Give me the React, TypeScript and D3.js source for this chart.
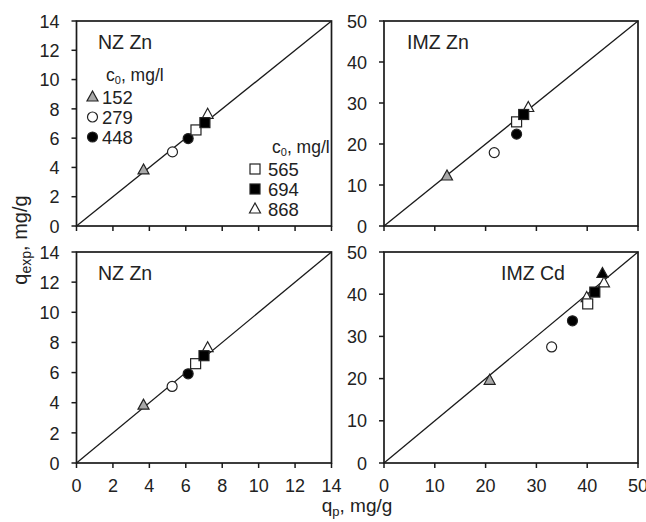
import React from "react";
import * as d3 from "d3";

// ---- data ----
const concentrationsA = ["152", "279", "448"];
const concentrationsB = ["565", "694", "868"];
const markerTypes = ["triGrey", "circleOpen", "circleFilled", "squareOpen", "squareFilled", "triOpen"];

const nzTopP = [3.68, 5.27, 6.13, 6.56, 7.05, 7.2];
const nzTopExp = [3.83, 5.06, 5.97, 6.56, 7.06, 7.63];

const imzZnP = [12.4, 21.7, 26.1, 26.1, 27.5, 28.4];
const imzZnExp = [12.2, 17.9, 22.4, 25.4, 27.2, 28.9];

const nzBotP = [3.68, 5.25, 6.13, 6.54, 7.0, 7.2];
const nzBotExp = [3.84, 5.08, 5.92, 6.59, 7.12, 7.65];

const imzCdP = [20.8, 33.0, 37.1, 40.1, 41.5, 43.3];
const imzCdExp = [19.6, 27.5, 33.7, 37.7, 40.5, 42.7];
const imzCdExtraP = [39.9, 43.0];
const imzCdExtraExp = [39.2, 44.9];
const imzCdExtraMarkers = ["triOpen", "triFilled"];

const ticksNZ = [0, 2, 4, 6, 8, 10, 12, 14];
const ticksIMZ = [0, 10, 20, 30, 40, 50];

const FONT = "'Liberation Sans', Arial, Helvetica, sans-serif";
const INK = "#1a1a1a";
const TXT = "#222";

type PanelProps = {
  x0: number; x1: number; y0: number; y1: number;
  max: number; ticks: number[]; showXLabels: boolean;
  title: string; titleX: number; titleY: number;
  p: number[]; e: number[]; markers: string[];
  extraBefore?: { p: number[]; e: number[]; m: string[] };
  children?: React.ReactNode;
};

function Marker({ type, cx, cy }: { type: string; cx: number; cy: number }) {
  const s = 10;
  if (type.startsWith("square")) {
    return <rect x={cx - s / 2} y={cy - s / 2} width={s} height={s}
      fill={type === "squareFilled" ? "#000" : "#fff"} stroke="#222" strokeWidth={1.2} />;
  }
  if (type.startsWith("circle")) {
    return <circle cx={cx} cy={cy} r={5}
      fill={type === "circleFilled" ? "#000" : "#fff"} stroke="#222" strokeWidth={1.2} />;
  }
  const w = 11, h = 10;
  const fill = type === "triGrey" ? "#a8a8a8" : type === "triFilled" ? "#000" : "#fff";
  const pts = `${cx},${cy - h * 0.6} ${cx - w / 2},${cy + h * 0.4} ${cx + w / 2},${cy + h * 0.4}`;
  return <polygon points={pts} fill={fill} stroke="#222" strokeWidth={1.2} strokeLinejoin="miter" />;
}

function Panel(props: PanelProps) {
  const { x0, x1, y0, y1, max, ticks, showXLabels } = props;
  const xs = d3.scaleLinear().domain([0, max]).range([x0, x1]);
  const ys = d3.scaleLinear().domain([0, max]).range([y1, y0]);
  const tick = 5;
  return (
    <g>
      <line x1={xs(0)} y1={ys(0)} x2={xs(max)} y2={ys(max)} stroke={INK} strokeWidth={1.3} />
      <rect x={x0} y={y0} width={x1 - x0} height={y1 - y0} fill="none" stroke={INK} strokeWidth={1.7} />
      {ticks.map((t) => (
        <g key={"y" + t}>
          <line x1={x0 - tick} x2={x0} y1={ys(t)} y2={ys(t)} stroke={INK} strokeWidth={1.5} />
          <text x={x0 - 17} y={ys(t)} dy="0.37em" textAnchor="end" fontSize={18} fill={TXT}>{t}</text>
        </g>
      ))}
      {ticks.map((t) => (
        <g key={"x" + t}>
          <line x1={xs(t)} x2={xs(t)} y1={y1} y2={y1 + tick} stroke={INK} strokeWidth={1.5} />
          {showXLabels && (
            <text x={xs(t)} y={y1 + 29} textAnchor="middle" fontSize={18} fill={TXT}>{t}</text>
          )}
        </g>
      ))}
      <text x={props.titleX} y={props.titleY} fontSize={19.5} fill={TXT}>{props.title}</text>
      {props.extraBefore && props.extraBefore.p.slice(0, 1).map((v, i) => (
        <Marker key={"eb" + i} type={props.extraBefore!.m[i]} cx={xs(v)} cy={ys(props.extraBefore!.e[i])} />
      ))}
      {[5, 0, 1, 2, 3, 4].map((i) => (
        <Marker key={i} type={props.markers[i]} cx={xs(props.p[i])} cy={ys(props.e[i])} />
      ))}
      {props.extraBefore && props.extraBefore.p.slice(1).map((v, i) => (
        <Marker key={"ea" + i} type={props.extraBefore!.m[i + 1]} cx={xs(v)} cy={ys(props.extraBefore!.e[i + 1])} />
      ))}
      {props.children}
    </g>
  );
}

function Legend({ x, y, labels, types, textX }: { x: number; y: number; labels: string[]; types: string[]; textX: number }) {
  return (
    <g>
      <text x={textX + 4} y={y - 1} fontSize={17.5} fill={TXT}>
        c<tspan fontSize={11} dy={3}>0</tspan><tspan dy={-3}>, mg/l</tspan>
      </text>
      {labels.map((l, i) => (
        <g key={l}>
          <Marker type={types[i]} cx={x} cy={y + 15 + i * 20} />
          <text x={textX} y={y + 15 + i * 20} dy="0.37em" fontSize={18.5} fill={TXT}>{l}</text>
        </g>
      ))}
    </g>
  );
}

export default function App() {
  const L = { x0: 76.5, x1: 331.5 };
  const R = { x0: 384, x1: 638 };
  const T = { y0: 21, y1: 226 };
  const B = { y0: 252, y1: 463 };
  return (
    <svg width={646} height={522} style={{ position: "absolute", left: 0, top: 0, fontFamily: FONT }}>
      <rect width={646} height={522} fill="#fff" />
      <Panel {...L} {...T} max={14} ticks={ticksNZ} showXLabels={false}
        title="NZ Zn" titleX={98} titleY={49}
        p={nzTopP} e={nzTopExp} markers={markerTypes}>
        <Legend x={92.5} y={82} labels={concentrationsA} types={markerTypes.slice(0, 3)} textX={102} />
        <Legend x={255} y={154} labels={concentrationsB} types={markerTypes.slice(3)} textX={268} />
      </Panel>
      <Panel {...R} {...T} max={50} ticks={ticksIMZ} showXLabels={false}
        title="IMZ Zn" titleX={407} titleY={49}
        p={imzZnP} e={imzZnExp} markers={markerTypes} />
      <Panel {...L} {...B} max={14} ticks={ticksNZ} showXLabels={true}
        title="NZ Zn" titleX={98} titleY={280}
        p={nzBotP} e={nzBotExp} markers={markerTypes} />
      <Panel {...R} {...B} max={50} ticks={ticksIMZ} showXLabels={true}
        title="IMZ Cd" titleX={501} titleY={280}
        p={imzCdP} e={imzCdExp} markers={markerTypes}
        extraBefore={{ p: imzCdExtraP, e: imzCdExtraExp, m: imzCdExtraMarkers }} />
      <text x={357} y={512} textAnchor="middle" fontSize={19} fill={TXT}>
        q<tspan fontSize={13} dy={4}>p</tspan><tspan dy={-4}>, mg/g</tspan>
      </text>
      <text transform="translate(27,240) rotate(-90)" textAnchor="middle" fontSize={20} fill={TXT}>
        q<tspan fontSize={14} dy={4}>exp</tspan><tspan dy={-4}>, mg/g</tspan>
      </text>
    </svg>
  );
}
